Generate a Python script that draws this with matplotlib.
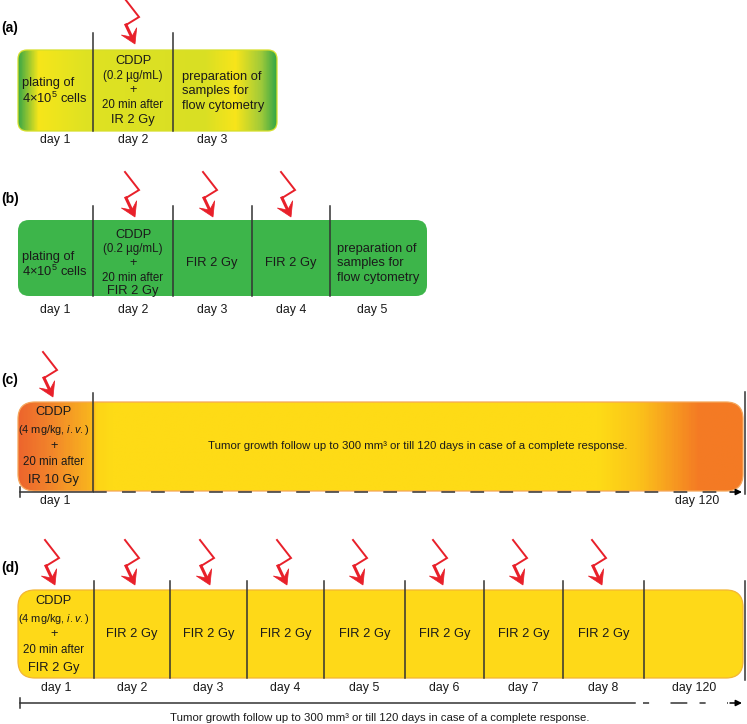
import numpy as np
import matplotlib
matplotlib.use("Agg")
import matplotlib.pyplot as plt
from matplotlib.patches import FancyBboxPatch, Polygon
from matplotlib.colors import LinearSegmentedColormap, to_rgb

plt.rcParams['font.family'] = ['Liberation Sans', 'DejaVu Sans']
plt.rcParams['mathtext.fontset'] = 'custom'
plt.rcParams['mathtext.rm'] = 'Liberation Sans'
plt.rcParams['mathtext.it'] = 'Liberation Sans:italic'

# ---------------- data ----------------
panel_labels = ['(a)', '(b)', '(c)', '(d)']

days_a = ['day 1', 'day 2', 'day 3']
days_b = ['day 1', 'day 2', 'day 3', 'day 4', 'day 5']
days_c = ['day 1', 'day 120']
days_d = ['day 1', 'day 2', 'day 3', 'day 4', 'day 5', 'day 6', 'day 7', 'day 8', 'day 120']

plating = ['plating of', '4×10$^{5}$ cells']
prep = ['preparation of', 'samples for', 'flow cytometry']
cddp_a = ['CDDP', '(0.2 µg/mL)', '+', '20 min after', 'IR 2 Gy']
cddp_b = ['CDDP', '(0.2 µg/mL)', '+', '20 min after', 'FIR 2 Gy']
cddp_c = ['CDDP', '(4 mg/kg, $\\mathit{i.v.}$)', '+', '20 min after', 'IR 10 Gy']
cddp_d = ['CDDP', '(4 mg/kg, $\\mathit{i.v.}$)', '+', '20 min after', 'FIR 2 Gy']
fir = 'FIR 2 Gy'
followup = 'Tumor growth follow up to 300 mm³ or till 120 days in case of a complete response.'

# ---------------- figure ----------------
fig = plt.figure(figsize=(7.47, 7.24), dpi=100)
ax = fig.add_axes([0, 0, 1, 1])
ax.set_xlim(0, 747)
ax.set_ylim(724, 0)
ax.axis('off')

FS = 9.3
FS_S = 8.3
FS_DAY = 8.9
FS_T = 8.2
RED = '#e8202a'
LINE = '#333333'
TXT = '#1a1a1a'


def gradient_box(x0, x1, y0, y1, stops, r, edge=None):
    patch = FancyBboxPatch((x0, y0), x1 - x0, y1 - y0,
                           boxstyle=f"round,pad=0,rounding_size={r}",
                           facecolor='none', edgecolor='none', zorder=1)
    ax.add_patch(patch)
    pos = [(s[0] - x0) / (x1 - x0) for s in stops]
    cols = [to_rgb(s[1]) for s in stops]
    cmap = LinearSegmentedColormap.from_list('g', list(zip(pos, cols)))
    grad = np.linspace(0, 1, 600)[None, :]
    im = ax.imshow(grad, cmap=cmap, extent=[x0, x1, y1, y0], aspect='auto',
                   interpolation='bilinear', zorder=1)
    im.set_clip_path(patch)
    if edge:
        e = FancyBboxPatch((x0, y0), x1 - x0, y1 - y0,
                           boxstyle=f"round,pad=0,rounding_size={r}",
                           facecolor='none', edgecolor=edge, lw=0.9, zorder=2)
        ax.add_patch(e)


def solid_box(x0, x1, y0, y1, color, r, edge=None):
    p = FancyBboxPatch((x0, y0), x1 - x0, y1 - y0,
                       boxstyle=f"round,pad=0,rounding_size={r}",
                       facecolor=color, edgecolor=edge if edge else 'none',
                       lw=0.9, zorder=1)
    ax.add_patch(p)


def divider(x, ytop, ybot):
    ax.plot([x, x], [ytop, ybot], color=LINE, lw=1.1, zorder=3)


def bolt(tx, ty):
    top = np.array([tx - 10, ty - 45])
    right = np.array([tx + 4, ty - 27])
    back = np.array([tx - 9, ty - 19])
    tip = np.array([tx, ty])
    ax.plot([top[0], right[0], back[0]], [top[1], right[1], back[1]],
            color=RED, lw=1.4, solid_joinstyle='miter', zorder=4)
    d = tip - back
    d = d / np.linalg.norm(d)
    n = np.array([-d[1], d[0]])
    L, W = 14, 17
    notch = tip - 0.55 * L * d
    ax.plot([back[0], notch[0]], [back[1], notch[1]], color=RED, lw=2.2, zorder=4)
    head = [tip, tip - L * d + W / 2 * n, notch, tip - L * d - W / 2 * n]
    ax.add_patch(Polygon(head, closed=True, facecolor=RED, edgecolor=RED,
                         lw=0.5, zorder=5))


def stack(x, ys, lines, sizes=None):
    if sizes is None:
        sizes = [FS, FS_S, FS, FS_S, FS]
    for y, t, s in zip(ys, lines, sizes):
        ax.text(x, y, t, ha='center', va='center', fontsize=s, color=TXT, zorder=6)


def left_lines(x, ys, lines):
    for y, t in zip(ys, lines):
        ax.text(x, y, t, ha='left', va='center', fontsize=FS, color=TXT, zorder=6)


def day_labels(xs, y, labels):
    for x, t in zip(xs, labels):
        ax.text(x, y, t, ha='center', va='center', fontsize=FS_DAY, color=TXT, zorder=6)


# panel labels
for lab, y in zip(panel_labels, [28, 199, 380, 568]):
    ax.text(1, y, lab, ha='left', va='center', fontsize=10, fontweight='bold')

# ---------------- (a) ----------------
stops_a = [(18, '#3ca846'), (38, '#f6e61a'), (85, '#dfe222'), (205, '#d9df24'),
           (236, '#f8e51a'), (262, '#9fca3a'), (277, '#36a745')]
gradient_box(18, 277, 50, 131, stops_a, 9, edge='#d6df2a')
for x in [93, 173]:
    divider(x, 33, 131)
left_lines(22, [83, 98], plating)
stack(133, [61, 76, 90, 105, 120], cddp_a)
left_lines(182, [77, 91, 106], prep)
day_labels([55, 133, 212], 140, days_a)
bolt(135, 44)

# ---------------- (b) ----------------
solid_box(18, 427, 220, 296, '#3db54a', 11)
for x in [93, 173, 252, 330]:
    divider(x, 206, 296)
left_lines(22, [257, 271], plating)
stack(133, [235, 249, 263, 278, 291], cddp_b)
for x in [212, 291]:
    ax.text(x, 263, fir, ha='center', va='center', fontsize=FS, color=TXT, zorder=6)
left_lines(337, [249, 263, 278], prep)
day_labels([55, 133, 212, 291, 372], 310, days_b)
for x in [135, 213, 291]:
    bolt(x, 217)

# ---------------- (c) ----------------
stops_c = [(18, '#ed662d'), (50, '#f2862a'), (91, '#f9b71d'), (95, '#fdd417'),
           (110, '#fedb16'), (600, '#fedb16'), (640, '#fbc31a'), (668, '#f8a21f'),
           (700, '#f47b24'), (743, '#f47a24')]
gradient_box(18, 743, 402, 491, stops_c, 17, edge='#f5a65a')
divider(93, 393, 491)
divider(745, 392, 494)
stack(54, [412, 430, 446, 462, 480], cddp_c, sizes=[FS, 7.9, FS, FS_S, FS])
ax.text(418, 446, followup, ha='center', va='center', fontsize=FS_T, color=TXT, zorder=6)
# time axis
ax.plot([20, 93], [492, 492], color=LINE, lw=1.1, zorder=3)
ax.plot([20, 20], [487, 497], color=LINE, lw=1.1, zorder=3)
ax.plot([93, 728], [492, 492], color=LINE, lw=1.1, linestyle=(0, (9, 10)), zorder=3)
ax.annotate('', xy=(742, 492), xytext=(730, 492),
            arrowprops=dict(arrowstyle='-|>', color='black', lw=1.1,
                            mutation_scale=9, shrinkA=0, shrinkB=0), zorder=3)
day_labels([55, 697], 501, days_c)
bolt(53, 397)

# ---------------- (d) ----------------
solid_box(18, 743, 590, 678, '#fed918', 17, edge='#f3b533')
d_div = [94, 170, 247, 324, 405, 484, 563, 644]
for x in d_div:
    divider(x, 581, 678)
divider(745, 581, 680)
stack(54, [601, 619, 634, 650, 668], cddp_d, sizes=[FS, 7.9, FS, FS_S, FS])
seg_edges = d_div + [745]
for i in range(7):
    cx = (seg_edges[i] + seg_edges[i + 1]) / 2
    ax.text(cx, 634, fir, ha='center', va='center', fontsize=FS, color=TXT, zorder=6)
day_centers = [56] + [(seg_edges[i] + seg_edges[i + 1]) / 2 for i in range(8)]
day_centers[-1] = 694
day_labels(day_centers, 688, days_d)
for x in [55, 135, 210, 287, 363, 443, 523, 602]:
    bolt(x, 585)
ax.plot([20, 635], [703, 703], color=LINE, lw=1.1, zorder=3)
ax.plot([20, 20], [698, 708], color=LINE, lw=1.1, zorder=3)
ax.plot([643, 728], [703, 703], color=LINE, lw=1.1, linestyle=(0, (4, 14, 11, 8)), zorder=3)
ax.annotate('', xy=(742, 703), xytext=(730, 703),
            arrowprops=dict(arrowstyle='-|>', color='black', lw=1.1,
                            mutation_scale=9, shrinkA=0, shrinkB=0), zorder=3)
ax.text(380, 718, followup, ha='center', va='center', fontsize=FS_T, color=TXT, zorder=6)

fig.savefig('out.png', dpi=100)
